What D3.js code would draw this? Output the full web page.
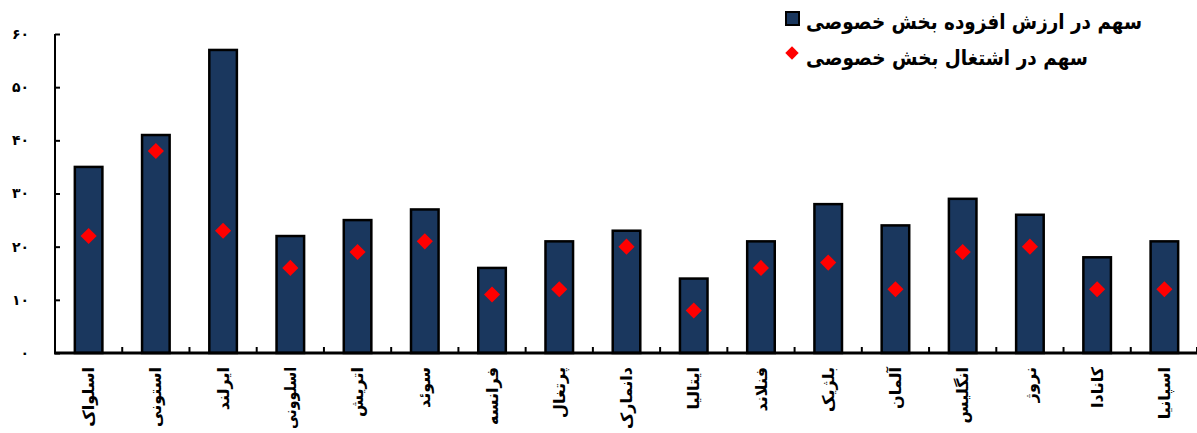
<!DOCTYPE html>
<html>
<head>
<meta charset="utf-8">
<script src="https://cdn.jsdelivr.net/npm/d3@7"></script>
<style>
html,body{margin:0;padding:0;background:#fff;}
svg{display:block;}
text{font-family:"DejaVu Sans",sans-serif;font-weight:bold;fill:#000;}
</style>
</head>
<body>
<svg id="chart" width="1197" height="433"></svg>
<script>
const categories = ["اسلواک","استونی","ایرلند","اسلوونی","اتریش","سوئد","فرانسه","پرتغال","دانمارک","ایتالیا","فنلاند","بلژیک","آلمان","انگلیس","نروژ","کانادا","اسپانیا"];
const valueAddedShare = [35,41,57,22,25,27,16,21,23,14,21,28,24,29,26,18,21];
const employmentShare = [22,38,23,16,19,21,11,12,20,8,16,17,12,19,20,12,12];
const yTicks = [0,10,20,30,40,50,60];
const yTickLabels = ["۰","۱۰","۲۰","۳۰","۴۰","۵۰","۶۰"];
const seriesNames = ["سهم در ارزش افزوده بخش خصوصی","سهم در اشتغال بخش خصوصی"];

const svg = d3.select("#chart");
const x0 = 55, x1 = 1198, yTop = 34, yBottom = 353;

const x = d3.scaleBand().domain(categories).range([x0, x1]).paddingInner(0.59).paddingOuter(0.295);
const y = d3.scaleLinear().domain([0, 60]).range([yBottom, yTop]);

// bars
svg.append("g").selectAll("rect").data(categories).join("rect")
  .attr("x", d => x(d))
  .attr("y", (d, i) => y(valueAddedShare[i]))
  .attr("width", x.bandwidth())
  .attr("height", (d, i) => yBottom - y(valueAddedShare[i]))
  .attr("fill", "#1a375e")
  .attr("stroke", "#000")
  .attr("stroke-width", 2.5);

// diamonds
const diamond = d3.symbol().type(d3.symbolSquare).size(130);
svg.append("g").selectAll("path").data(categories).join("path")
  .attr("d", diamond)
  .attr("transform", (d, i) => `translate(${x(d) + x.bandwidth() / 2},${y(employmentShare[i])}) rotate(45)`)
  .attr("fill", "#ff0000");

// y axis
const yAxis = d3.axisRight(y).tickValues(yTicks).tickSize(5).tickFormat("");
const gy = svg.append("g").attr("transform", `translate(${x0},0)`).call(yAxis);
gy.select(".domain").remove();
gy.selectAll(".tick line").attr("stroke", "#000").attr("stroke-width", 2);
svg.append("line").attr("x1", x0).attr("x2", x0).attr("y1", yTop).attr("y2", yBottom)
  .attr("stroke", "#000").attr("stroke-width", 2);
svg.append("g").selectAll("text").data(yTicks).join("text")
  .attr("x", 29).attr("y", d => y(d)).attr("dy", "0.35em")
  .attr("text-anchor", "end").attr("font-size", 14)
  .text((d, i) => yTickLabels[i]);

// x axis
const boundaries = categories.slice(1).map(c => x(c) - x.step() * x.paddingInner() / 2);
boundaries.push(x1 - 1);
svg.append("g").selectAll("line").data(boundaries).join("line")
  .attr("x1", d => d).attr("x2", d => d).attr("y1", yBottom).attr("y2", yBottom - 6)
  .attr("stroke", "#000").attr("stroke-width", 2);
svg.append("line").attr("x1", x0 - 1).attr("x2", x1).attr("y1", yBottom).attr("y2", yBottom)
  .attr("stroke", "#000").attr("stroke-width", 3);

svg.append("g").selectAll("text").data(categories).join("text")
  .attr("transform", d => `translate(${x(d) + x.bandwidth() / 2},367) rotate(-90)`)
  .attr("text-anchor", "end").attr("dy", "0.35em")
  .attr("font-size", 16)
  .text(d => d)
  .each(function () {
    const len = this.getComputedTextLength();
    if (len > 62) d3.select(this).attr("textLength", 62).attr("lengthAdjust", "spacingAndGlyphs");
  });

// legend
const lg = svg.append("g");
lg.append("rect").attr("x", 786).attr("y", 12).attr("width", 13).attr("height", 13)
  .attr("fill", "#1a375e").attr("stroke", "#000").attr("stroke-width", 2);
lg.append("path").attr("d", d3.symbol().type(d3.symbolSquare).size(90))
  .attr("transform", "translate(792,53) rotate(45)").attr("fill", "#ff0000");
lg.append("text").attr("x", 806).attr("y", 22).attr("dy", "0.35em").attr("font-size", 21)
  .attr("text-anchor", "start").attr("textLength", 336).attr("lengthAdjust", "spacingAndGlyphs")
  .text(seriesNames[0]);
lg.append("text").attr("x", 806).attr("y", 58).attr("dy", "0.35em").attr("font-size", 21)
  .attr("text-anchor", "start").attr("textLength", 282).attr("lengthAdjust", "spacingAndGlyphs")
  .text(seriesNames[1]);
</script>
</body>
</html>
